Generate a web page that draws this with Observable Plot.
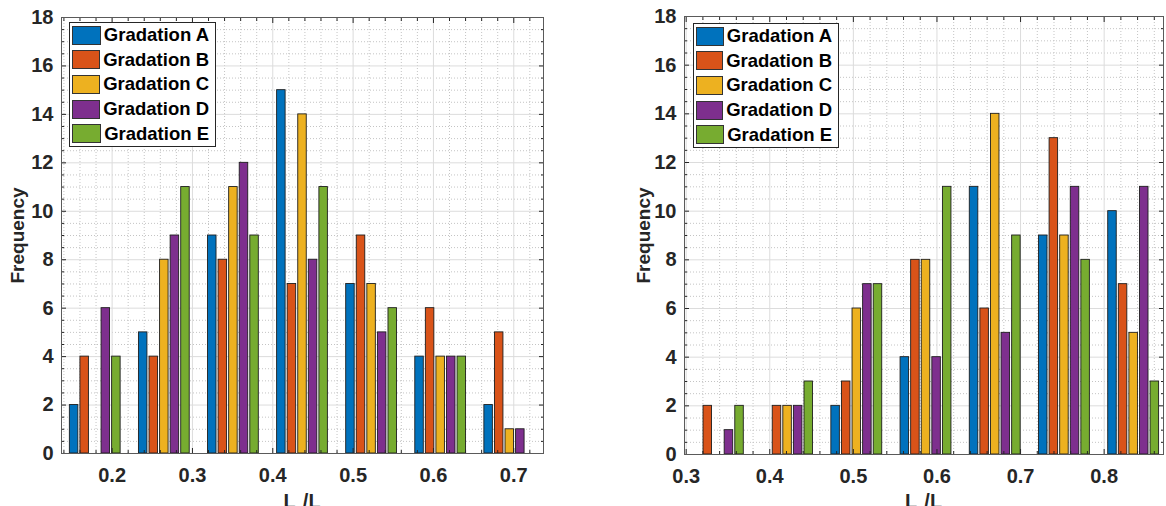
<!DOCTYPE html>
<html>
<head>
<meta charset="utf-8">
<script src="https://cdn.jsdelivr.net/npm/d3@7"></script>
<script src="https://cdn.jsdelivr.net/npm/@observablehq/plot@0.6"></script>
<style>
  html, body { margin: 0; padding: 0; background: #fff; overflow: hidden; }
  #row { display: flex; width: 1166px; height: 506px; }
  .panel { position: relative; width: 583px; height: 506px; }
  .panel svg { overflow: visible; }
  .legend {
    position: absolute;
    box-sizing: border-box;
    border: 1px solid #262626;
    background: #fff;
    padding: 0 6px 0 2px;
    font: bold 18.5px "Liberation Sans", Arial, sans-serif;
    color: #000;
  }
  .legend .item { display: flex; align-items: center; height: 24.6px; white-space: nowrap; }
  .legend .sw { box-sizing: border-box; width: 31px; height: 19px; border: 1px solid #333; margin-right: 3px; }
</style>
</head>
<body>
<div id="row"></div>
<script>
// Series shared by both panels
const series = ["Gradation A", "Gradation B", "Gradation C", "Gradation D", "Gradation E"];
const colors = ["#0072BD", "#D95319", "#EDB120", "#7E2F8E", "#77AC30"];

// Left panel: bin centres and counts per gradation
const leftCenters = [0.179, 0.265, 0.351, 0.437, 0.523, 0.609, 0.695];
const leftA = [2, 5, 9, 15, 7, 4, 2];
const leftB = [4, 4, 8, 7, 9, 6, 5];
const leftC = [0, 8, 11, 14, 7, 4, 1];
const leftD = [6, 9, 12, 8, 5, 4, 1];
const leftE = [4, 11, 9, 11, 6, 4, 0];
const leftXTicks = [0.2, 0.3, 0.4, 0.5, 0.6, 0.7];
const leftXDomain = [0.137, 0.737];

// Right panel: bin centres and counts per gradation
const rightCenters = [0.3385, 0.4213, 0.5041, 0.5869, 0.6697, 0.7525, 0.8353];
const rightA = [0, 0, 2, 4, 11, 9, 10];
const rightB = [2, 2, 3, 8, 6, 13, 7];
const rightC = [0, 2, 6, 8, 14, 9, 5];
const rightD = [1, 2, 7, 4, 5, 11, 11];
const rightE = [2, 3, 7, 11, 9, 8, 3];
const rightXTicks = [0.3, 0.4, 0.5, 0.6, 0.7, 0.8];
const rightXDomain = [0.298, 0.871];

// Shared y axis
const yTicks = [0, 2, 4, 6, 8, 10, 12, 14, 16, 18];
const yDomain = [0, 18];
const yLabel = "Frequency";
const xLabelMain = "L";
const xLabelSub = "c";
const xLabelTail = "/L";

const FONT = '"Liberation Sans", Arial, sans-serif';
const INK = "#262626";

function groupedRows(centers, columns) {
  const step = centers[1] - centers[0];
  const pitch = 0.153 * step;   // distance between neighbouring bars in a group
  const bw = 0.123 * step;      // bar width
  const rows = [];
  centers.forEach((c, i) => {
    columns.forEach((col, j) => {
      const v = col[i];
      if (v <= 0) return;
      const mid = c + (j - 2) * pitch;
      rows.push({series: series[j], x1: mid - bw / 2, x2: mid + bw / 2, count: v});
    });
  });
  return rows;
}

function drawPanel({centers, columns, xTicks, xDomain, margins, labelDx}) {
  const rows = groupedRows(centers, columns);
  const minorX = d3.range(0, 60).map(k => +(k * 0.02).toFixed(2))
    .filter(v => v > xDomain[0] && v < xDomain[1] && !xTicks.some(t => Math.abs(t - v) < 1e-9));
  const minorY = d3.range(1, 36).map(k => k * 0.5).filter(v => v % 2 !== 0);

  const chart = Plot.plot({
    width: 583,
    height: 506,
    marginLeft: margins.left,
    marginRight: margins.right,
    marginTop: margins.top,
    marginBottom: margins.bottom,
    x: {domain: xDomain},
    y: {domain: yDomain},
    color: {domain: series, range: colors},
    style: {fontFamily: FONT, fontSize: "20px", fontWeight: "bold", color: INK, background: "#fff"},
    marks: [
      // minor grid (dotted) and major grid (solid)
      Plot.gridX(minorX, {stroke: "#c4c4c4", strokeOpacity: 1, strokeDasharray: "1,2"}),
      Plot.gridY(minorY, {stroke: "#c4c4c4", strokeOpacity: 1, strokeDasharray: "1,2"}),
      Plot.gridX(xTicks, {stroke: "#dcdcdc", strokeOpacity: 1}),
      Plot.gridY(yTicks, {stroke: "#dcdcdc", strokeOpacity: 1}),
      // grouped histogram bars
      Plot.rectY(rows, {x1: "x1", x2: "x2", y: "count", fill: "series", stroke: "#1e1e1e", strokeWidth: 0.9}),
      // inward ticks on all four sides
      Plot.axisX(xTicks, {anchor: "bottom", tickSize: -5, tickPadding: 19, tickFormat: d => d.toFixed(1), label: null, stroke: INK}),
      Plot.axisX(minorX, {anchor: "bottom", tickSize: -3, tickFormat: () => "", label: null, stroke: INK}),
      Plot.axisX(xTicks, {anchor: "top", tickSize: -5, tickFormat: () => "", label: null, stroke: INK}),
      Plot.axisX(minorX, {anchor: "top", tickSize: -3, tickFormat: () => "", label: null, stroke: INK}),
      Plot.axisY(yTicks, {anchor: "left", tickSize: -5, tickPadding: 13, tickFormat: d => String(d), label: null, stroke: INK}),
      Plot.axisY(minorY, {anchor: "left", tickSize: -3, tickFormat: () => "", label: null, stroke: INK}),
      Plot.axisY(yTicks, {anchor: "right", tickSize: -5, tickFormat: () => "", label: null, stroke: INK}),
      Plot.axisY(minorY, {anchor: "right", tickSize: -3, tickFormat: () => "", label: null, stroke: INK}),
      Plot.frame({stroke: "#5a5a5a", strokeWidth: 1}),
      // y axis title
      Plot.text([yLabel], {text: d => d, frameAnchor: "left", rotate: -90, dx: labelDx, fontSize: 19, textAnchor: "middle", lineAnchor: "middle", fill: INK})
    ]
  });

  // x axis title with a subscript, centred under the frame
  const xr = chart.scale("x").range;
  const label = d3.select(chart).append("text")
    .attr("x", (xr[0] + xr[1]) / 2)
    .attr("y", 508)
    .attr("text-anchor", "middle")
    .attr("fill", INK)
    .style("font-family", FONT)
    .style("font-weight", "bold")
    .style("font-size", "20px");
  label.append("tspan").text(xLabelMain);
  label.append("tspan").attr("dy", 5).style("font-size", "13px").text(xLabelSub);
  label.append("tspan").attr("dy", -5).text(xLabelTail);
  return chart;
}

function addLegend(panel, pos) {
  const box = document.createElement("div");
  box.className = "legend";
  box.style.left = pos.left + "px";
  box.style.top = pos.top + "px";
  box.style.width = pos.width + "px";
  series.forEach((name, i) => {
    const item = document.createElement("div");
    item.className = "item";
    const sw = document.createElement("div");
    sw.className = "sw";
    sw.style.background = colors[i];
    const t = document.createElement("span");
    t.textContent = name;
    item.appendChild(sw);
    item.appendChild(t);
    box.appendChild(item);
  });
  panel.appendChild(box);
}

const row = document.getElementById("row");

const leftPanel = document.createElement("div");
leftPanel.className = "panel";
leftPanel.appendChild(drawPanel({
  centers: leftCenters,
  columns: [leftA, leftB, leftC, leftD, leftE],
  xTicks: leftXTicks,
  xDomain: leftXDomain,
  margins: {left: 61, right: 40, top: 17, bottom: 53},
  labelDx: -44
}));
addLegend(leftPanel, {left: 69, top: 22, width: 147});
row.appendChild(leftPanel);

const rightPanel = document.createElement("div");
rightPanel.className = "panel";
rightPanel.appendChild(drawPanel({
  centers: rightCenters,
  columns: [rightA, rightB, rightC, rightD, rightE],
  xTicks: rightXTicks,
  xDomain: rightXDomain,
  margins: {left: 101, right: 3, top: 16, bottom: 52},
  labelDx: -41
}));
addLegend(rightPanel, {left: 110, top: 23, width: 146});
row.appendChild(rightPanel);
</script>
</body>
</html>
